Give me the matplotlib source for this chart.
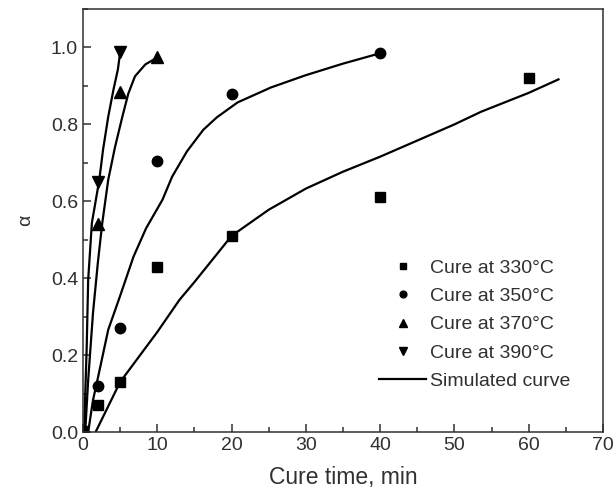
import numpy as np
import matplotlib
matplotlib.use("Agg")
import matplotlib.pyplot as plt
from matplotlib.ticker import MultipleLocator

plt.rcParams['font.family'] = ['Liberation Sans', 'DejaVu Sans']

# measured points
t_330 = [0, 2, 5, 10, 20, 40, 60]
a_330 = [0, 0.07, 0.13, 0.43, 0.51, 0.61, 0.92]
t_350 = [0, 2, 5, 10, 20, 40]
a_350 = [0, 0.12, 0.27, 0.705, 0.878, 0.985]
t_370 = [0, 2, 5, 10]
a_370 = [0, 0.54, 0.885, 0.974]
t_390 = [0, 2, 5]
a_390 = [0, 0.65, 0.987]

# simulated curves
sim_t_330 = [1.7, 5, 10, 13, 15, 20, 25, 30, 35, 40, 45, 50, 53.6, 60, 64]
sim_a_330 = [0, 0.13, 0.26, 0.344, 0.39, 0.51, 0.578, 0.633, 0.677, 0.716, 0.758, 0.80, 0.833, 0.882, 0.917]
sim_t_350 = [0.7, 1.35, 2, 3.4, 5, 6.8, 8.5, 10.7, 12, 14, 16.2, 18, 20.8, 25.3, 30, 35, 40]
sim_a_350 = [0, 0.083, 0.14, 0.266, 0.354, 0.456, 0.53, 0.604, 0.664, 0.73, 0.786, 0.818, 0.857, 0.896, 0.928, 0.958, 0.985]
sim_t_370 = [0.3, 0.7, 1.35, 2, 2.6, 3.4, 4.3, 5.3, 6.1, 7.0, 8.4, 10]
sim_a_370 = [0, 0.135, 0.31, 0.44, 0.544, 0.656, 0.74, 0.82, 0.88, 0.925, 0.956, 0.974]
sim_t_390 = [0.15, 0.5, 0.7, 1.2, 2.2, 2.7, 3.4, 4.1, 4.7, 5]
sim_a_390 = [0, 0.22, 0.396, 0.544, 0.656, 0.734, 0.82, 0.89, 0.943, 0.987]

labels = ['Cure at 330°C', 'Cure at 350°C', 'Cure at 370°C', 'Cure at 390°C']

fig = plt.figure(figsize=(6.16, 5.01), dpi=100)
ax = fig.add_axes([0.1347, 0.1377, 0.8443, 0.8443])

ink = '#303030'
ax.plot(t_330, a_330, 's', color='black', ms=7.5, label=labels[0])
ax.plot(t_350, a_350, 'o', color='black', ms=7.5, label=labels[1])
ax.plot(t_370, a_370, '^', color='black', ms=9, label=labels[2])
ax.plot(t_390, a_390, 'v', color='black', ms=9, label=labels[3])

ax.plot(sim_t_330, sim_a_330, '-', color='black', lw=1.6, label='Simulated curve')
ax.plot(sim_t_350, sim_a_350, '-', color='black', lw=1.6)
ax.plot(sim_t_370, sim_a_370, '-', color='black', lw=1.6)
ax.plot(sim_t_390, sim_a_390, '-', color='black', lw=1.6)

ax.set_xlim(0, 70)
ax.set_ylim(0, 1.1)
ax.xaxis.set_major_locator(MultipleLocator(10))
ax.xaxis.set_minor_locator(MultipleLocator(5))
ax.yaxis.set_major_locator(MultipleLocator(0.2))
ax.yaxis.set_minor_locator(MultipleLocator(0.1))
ax.yaxis.set_major_formatter(lambda v, p: f'{v:.1f}')
ax.tick_params(which='both', direction='in', colors=ink, labelsize=14, width=1.1)
ax.tick_params(which='major', length=6)
ax.tick_params(which='minor', length=3.5)
for s in ax.spines.values():
    s.set_color(ink)
    s.set_linewidth(1.1)

ax.set_xlabel('Cure time, min', fontsize=16.5, color=ink, labelpad=9)
ax.set_ylabel('α', fontsize=14, color=ink, labelpad=12)

leg = ax.legend(loc='upper left', bbox_to_anchor=(0.555, 0.427), frameon=False,
                fontsize=14, markerscale=0.65, handlelength=2.4,
                labelspacing=0.55, handletextpad=0.2, borderaxespad=0)
for t in leg.get_texts():
    t.set_color(ink)

fig.savefig('out.png', dpi=100)
